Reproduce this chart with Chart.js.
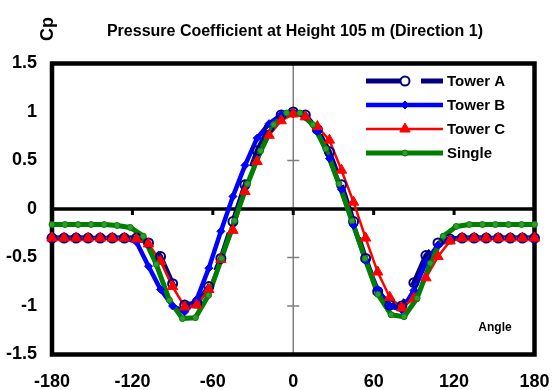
<!DOCTYPE html>
<html>
<head>
<meta charset="utf-8">
<script src="https://cdn.jsdelivr.net/npm/chart.js@4.4.1/dist/chart.umd.min.js"></script>
<style>
  body { margin: 0; background: #fff; }
  canvas { display: block; }
</style>
</head>
<body>
<canvas id="cp" width="552" height="390"></canvas>
<script>
// angles (deg) of the three towers, every 9 degrees
const towerAngles = [-180, -171, -162, -153, -144, -135, -126, -117, -108, -99, -90, -81, -72, -63, -54, -45, -36, -27, -18, -9,
  0, 9, 18, 27, 36, 45, 54, 63, 72, 81, 90, 99, 108, 117, 126, 135, 144, 153, 162, 171, 180];
const towerA = [-0.3, -0.3, -0.3, -0.3, -0.3, -0.3, -0.3, -0.3, -0.35, -0.49, -0.77, -0.99, -0.97, -0.8, -0.51, -0.13, 0.25, 0.6, 0.84, 0.97,
  1.0, 0.97, 0.82, 0.59, 0.25, -0.13, -0.51, -0.85, -0.99, -1.0, -0.76, -0.48, -0.35, -0.31, -0.3, -0.3, -0.3, -0.3, -0.3, -0.3, -0.3];
const towerB = [-0.3, -0.3, -0.3, -0.3, -0.3, -0.3, -0.3, -0.34, -0.59, -0.83, -1.0, -1.06, -0.93, -0.61, -0.23, 0.13, 0.45, 0.73, 0.88, 0.97,
  1.0, 0.96, 0.8, 0.52, 0.2, -0.17, -0.53, -0.83, -1.0, -1.04, -0.84, -0.55, -0.37, -0.31, -0.3, -0.3, -0.3, -0.3, -0.3, -0.3, -0.3];
const towerC = [-0.3, -0.3, -0.3, -0.3, -0.3, -0.3, -0.3, -0.31, -0.36, -0.54, -0.8, -1.01, -0.99, -0.83, -0.52, -0.22, 0.18, 0.49, 0.76, 0.91,
  0.98, 0.95, 0.85, 0.71, 0.4, 0.07, -0.3, -0.65, -0.91, -1.02, -0.92, -0.71, -0.49, -0.33, -0.3, -0.3, -0.3, -0.3, -0.3, -0.3, -0.3];

// the single building has its own tap positions
const singleAngles = [-180, -170.3, -160.5, -150.8, -141.1, -131.4, -121.6, -111.9, -102.2, -92.4, -82.7, -73, -63.2, -53.5, -43.8, -34.1, -24.3, -14.6, -4.9,
  4.9, 14.6, 24.3, 34.1, 43.8, 53.5, 63.2, 73, 82.7, 92.4, 102.2, 111.9, 121.6, 131.4, 141.1, 150.8, 160.5, 170.3, 180];
const single = [-0.16, -0.16, -0.16, -0.16, -0.16, -0.17, -0.19, -0.28, -0.57, -0.94, -1.13, -1.12, -0.89, -0.51, -0.12, 0.26, 0.6, 0.87, 0.99,
  0.99, 0.87, 0.62, 0.26, -0.12, -0.51, -0.88, -1.09, -1.11, -0.92, -0.56, -0.28, -0.18, -0.16, -0.16, -0.16, -0.16, -0.16, -0.16];

const xTicks = [-180, -120, -60, 0, 60, 120, 180];
const yTicks = [-1.5, -1, -0.5, 0, 0.5, 1, 1.5];
const seriesNames = ['Tower A', 'Tower B', 'Tower C', 'Single'];

const FONT = '"Liberation Sans", Arial, sans-serif';

const pairs = (xs, ys) => xs.map((x, i) => ({ x: x, y: ys[i] }));

const series = [
  { data: pairs(towerAngles, towerA), color: '#000080', width: 5, dash: [40, 15], point: 'circle', radius: 4.5, fill: 'rgba(255,255,255,0)', pw: 2 },
  { data: pairs(towerAngles, towerB), color: '#0000ff', width: 4.5, dash: [], point: 'rectRot', radius: 4, fill: '#0000ff', pw: 1 },
  { data: pairs(towerAngles, towerC), color: '#ff0000', width: 2.5, dash: [], point: 'triangle', radius: 6, fill: '#ff0000', pw: 1 },
  { data: pairs(singleAngles, single), color: '#008000', width: 5, dash: [], point: 'circle', radius: 3, fill: '#339933', pw: 1 },
];

// lines of all series first, markers on top (as the spreadsheet draws them)
const datasets = [];
series.forEach((s, i) => {
  datasets.push({
    label: seriesNames[i],
    data: s.data,
    borderColor: s.color,
    borderWidth: s.width,
    borderDash: s.dash,
    borderCapStyle: s.dash.length ? 'butt' : 'round',
    borderJoinStyle: 'round',
    pointRadius: 0,
    tension: 0,
    clip: false,
    order: 8 - i,
  });
});
series.forEach((s, i) => {
  datasets.push({
    label: seriesNames[i] + ' markers',
    data: s.data,
    showLine: false,
    pointStyle: s.point,
    pointRadius: s.radius,
    pointBackgroundColor: s.fill,
    pointBorderColor: s.color,
    pointBorderWidth: s.pw,
    clip: false,
    order: 4 - i,
  });
});

// frame, zero lines and their tick marks, under the data
const framePlugin = {
  id: 'frame',
  beforeDatasetsDraw(chart) {
    const { ctx, chartArea: a, scales } = chart;
    const x0 = scales.x.getPixelForValue(0);
    const y0 = scales.y.getPixelForValue(0);
    ctx.save();
    // vertical line at angle 0
    ctx.strokeStyle = '#808080';
    ctx.lineWidth = 1.5;
    ctx.beginPath();
    ctx.moveTo(x0, a.top);
    ctx.lineTo(x0, a.bottom);
    yTicks.forEach(v => {
      const y = scales.y.getPixelForValue(v);
      ctx.moveTo(x0 - 6, y);
      ctx.lineTo(x0 + 6, y);
    });
    ctx.stroke();
    // horizontal axis at Cp = 0
    ctx.strokeStyle = '#000';
    ctx.lineWidth = 3.5;
    ctx.beginPath();
    ctx.moveTo(a.left, y0);
    ctx.lineTo(a.right, y0);
    ctx.stroke();
    ctx.lineWidth = 3;
    ctx.beginPath();
    xTicks.forEach(v => {
      const x = scales.x.getPixelForValue(v);
      ctx.moveTo(x, y0);
      ctx.lineTo(x, y0 + 6);
    });
    ctx.stroke();
    // plot frame
    ctx.lineWidth = 4.5;
    ctx.strokeRect(a.left, a.top, a.right - a.left, a.bottom - a.top);
    ctx.restore();
  },
  afterDraw(chart) {
    const { ctx } = chart;
    ctx.save();
    ctx.fillStyle = '#000';
    ctx.textBaseline = 'alphabetic';
    ctx.textAlign = 'center';
    ctx.font = 'bold 16px ' + FONT;
    ctx.fillText('Pressure Coefficient at Height 105 m (Direction 1)', 295, 36);
    ctx.font = 'bold 12px ' + FONT;
    ctx.fillText('Angle', 495, 331);
    // rotated axis title
    ctx.save();
    ctx.translate(53, 29);
    ctx.rotate(-Math.PI / 2);
    ctx.font = 'bold 18px ' + FONT;
    ctx.fillText('Cp', 0, 0);
    ctx.restore();

    // legend
    const rows = [81, 105, 129, 153];
    const x1 = 366, x2 = 443, xm = 405;
    series.forEach((s, i) => {
      const y = rows[i];
      ctx.save();
      ctx.strokeStyle = s.color;
      ctx.lineWidth = s.width;
      ctx.setLineDash(s.dash);
      ctx.beginPath();
      ctx.moveTo(x1, y);
      ctx.lineTo(x2, y);
      ctx.stroke();
      ctx.setLineDash([]);
      ctx.fillStyle = s.point === 'circle' && i === 0 ? '#fff' : s.fill;
      ctx.lineWidth = s.pw;
      ctx.beginPath();
      const r = s.radius;
      if (s.point === 'circle') {
        ctx.arc(xm, y, r, 0, Math.PI * 2);
      } else if (s.point === 'rectRot') {
        ctx.moveTo(xm, y - r); ctx.lineTo(xm + r, y); ctx.lineTo(xm, y + r); ctx.lineTo(xm - r, y);
        ctx.closePath();
      } else {
        ctx.moveTo(xm, y - r); ctx.lineTo(xm + r * 0.866, y + r / 2); ctx.lineTo(xm - r * 0.866, y + r / 2);
        ctx.closePath();
      }
      ctx.fill();
      ctx.stroke();
      ctx.restore();
      ctx.font = 'bold 15px ' + FONT;
      ctx.textAlign = 'left';
      ctx.textBaseline = 'middle';
      ctx.fillStyle = '#000';
      ctx.fillText(seriesNames[i], 447, y + 1);
    });
    ctx.restore();
  }
};

new Chart(document.getElementById('cp').getContext('2d'), {
  type: 'line',
  data: { datasets: datasets },
  options: {
    responsive: false,
    animation: false,
    layout: { padding: { top: 63.5, right: 17.5, left: 0, bottom: 0 } },
    plugins: {
      legend: { display: false },
      tooltip: { enabled: false },
    },
    scales: {
      x: {
        type: 'linear',
        min: -180,
        max: 180,
        afterBuildTicks: (s) => { s.ticks = xTicks.map(v => ({ value: v })); },
        afterFit: (s) => { s.height = 35.5; s.paddingLeft = 0; s.paddingRight = 0; },
        grid: { display: false, drawTicks: false },
        border: { display: false },
        ticks: {
          color: '#000',
          padding: 17,
          maxRotation: 0,
          autoSkip: false,
          font: { family: FONT, size: 18, weight: 'bold' },
          callback: (v) => String(v),
        },
      },
      y: {
        type: 'linear',
        min: -1.5,
        max: 1.5,
        afterBuildTicks: (s) => { s.ticks = yTicks.map(v => ({ value: v })); },
        afterFit: (s) => { s.width = 52; s.paddingTop = 0; s.paddingBottom = 0; },
        grid: { display: false, drawTicks: false },
        border: { display: false },
        ticks: {
          color: '#000',
          padding: 15,
          autoSkip: false,
          font: { family: FONT, size: 18, weight: 'bold' },
          callback: (v) => String(v),
        },
      },
    },
  },
  plugins: [framePlugin],
});
</script>
</body>
</html>
